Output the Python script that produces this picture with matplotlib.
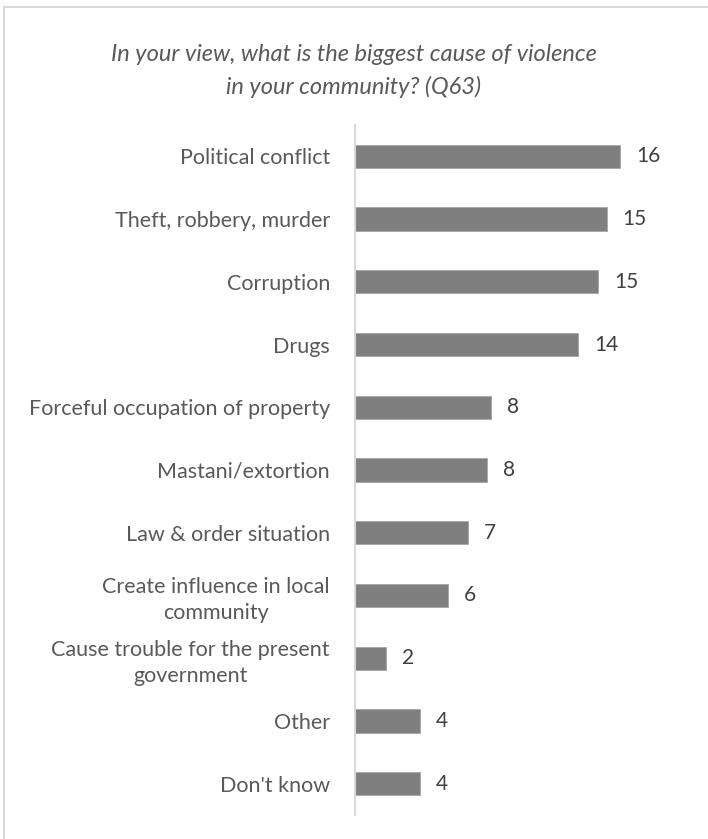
import matplotlib
matplotlib.use("Agg")
import matplotlib.pyplot as plt
from matplotlib.patches import Rectangle

categories = [
    "Political conflict",
    "Theft, robbery, murder",
    "Corruption",
    "Drugs",
    "Forceful occupation of property",
    "Mastani/extortion",
    "Law & order situation",
    "Create influence in local\ncommunity",
    "Cause trouble for the present\ngovernment",
    "Other",
    "Don't know",
]
values = [16.0, 15.2, 14.7, 13.5, 8.2, 7.95, 6.8, 5.6, 1.9, 3.9, 3.9]
value_labels = ["16", "15", "15", "14", "8", "8", "7", "6", "2", "4", "4"]
title = "In your view, what is the biggest cause of violence\nin your community? (Q63)"

W, H = 708, 839
fig = plt.figure(figsize=(W / 100, H / 100), dpi=100)
fig.patch.set_facecolor("white")

fig.add_artist(Rectangle((4 / W, -0.05), 1.1, (H - 7) / H + 0.05, transform=fig.transFigure,
                         fill=False, edgecolor="#d9d9d9", linewidth=1.5))

ax = fig.add_axes([355 / W, (H - 815) / H, 331 / W, 690 / H])
y = list(range(len(categories)))
ax.barh(y, values, height=0.37, color="#7f7f7f", edgecolor="#a6a6a6", linewidth=0.6)
ax.set_ylim(len(categories) - 0.5, -0.5)
ax.set_xlim(0, 20)
ax.set_yticks(y)
ax.set_yticklabels(categories, fontsize=15.5, color="#595959", family="Lato")
for lab in ax.get_yticklabels():
    lab.set_multialignment("center")
    lab.set_linespacing(1.35)
ax.tick_params(axis="y", length=0, pad=18)
ax.set_xticks([])
for s in ["top", "right", "bottom"]:
    ax.spines[s].set_visible(False)
ax.spines["left"].set_color("#d9d9d9")
ax.spines["left"].set_linewidth(1.5)

for yi, v, t in zip(y, values, value_labels):
    ax.annotate(t, (v, yi), xytext=(11.5, 0), textcoords="offset points",
                va="center", ha="left", fontsize=15, color="#404040", family="Lato")

fig.text(354 / W, 1 - 71 / H, title, ha="center", va="center", fontsize=17,
         style="italic", color="#595959", family="Lato", linespacing=1.6)

fig.savefig("out.png", dpi=100)
